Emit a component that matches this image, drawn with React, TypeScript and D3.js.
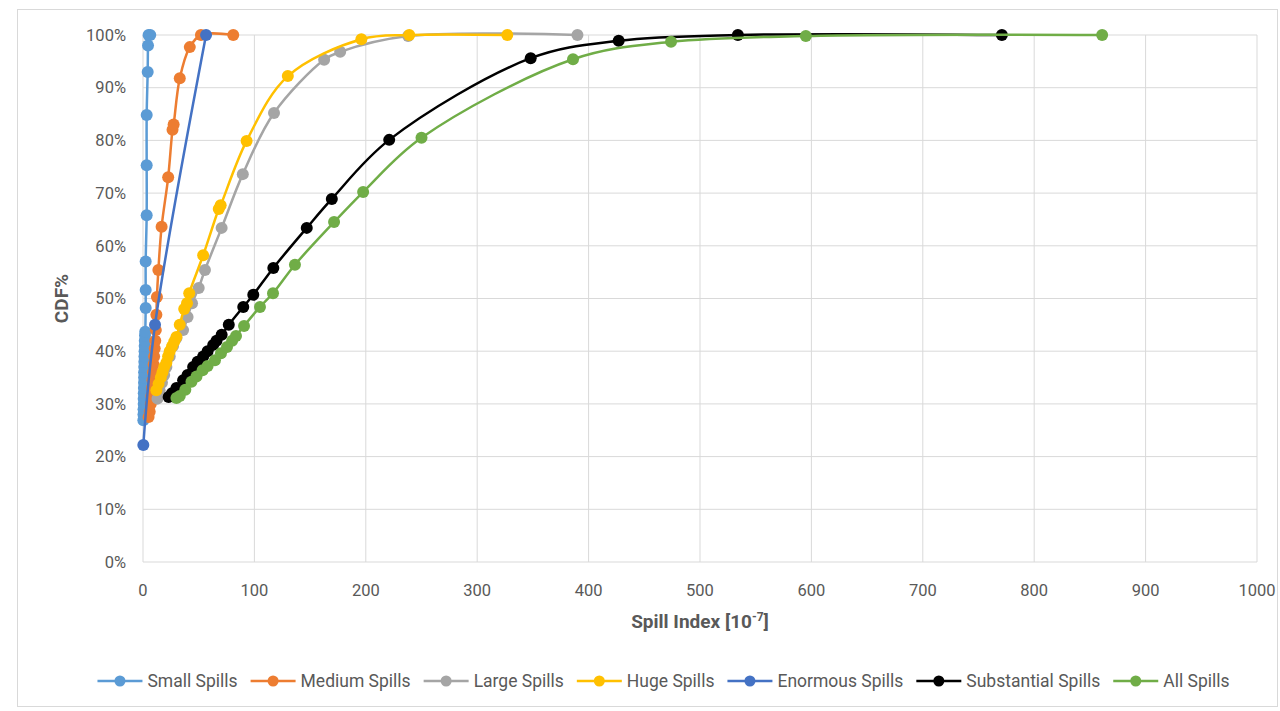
import React, { useEffect, useRef } from "react";
import * as d3 from "d3";

// [spill index, CDF %]
const smallSpills = [[0.3,26.9],[0.4,28],[0.5,29],[0.6,30],[0.6,31],[0.7,32],[0.8,33],[0.9,34],[1,35],[1,36],[1.1,37],[1.2,38],[1.3,39],[1.4,40],[1.5,41],[1.6,42],[1.8,43],[2,43.7],[2.4,48.2],[2.4,51.6],[2.4,57],[3.3,65.8],[3.3,75.3],[3.3,84.8],[4.2,93],[4.5,98],[5,100],[6.5,100]];
const mediumSpills = [[5,27.5],[6,28.5],[7,30],[7.5,31.5],[8,33],[8.5,34.5],[9,36],[9.5,37.5],[10,39],[10.5,40.5],[11,42],[11.5,44],[12,46.9],[12.5,50.3],[13.8,55.4],[16.7,63.6],[22.6,73],[26.5,82],[27.5,83],[33,91.8],[42,97.7],[52,100],[81,100]];
const largeSpills = [[13,31],[15,32.5],[17,34],[19,35.5],[21,37],[24,39],[27,41],[30,42.5],[36,44],[40,46.5],[44,49.1],[50,52],[55.6,55.4],[70.6,63.4],[89.6,73.6],[117.6,85.2],[162.6,95.3],[177,96.8],[238,99.8],[390,100]];
const hugeSpills = [[12,32.6],[14,33.8],[16,35],[17.5,36],[19,37],[21,37.8],[22.5,39],[24,40],[26,40.9],[28,41.8],[30,42.7],[33,45],[37,48],[39.5,49.1],[41.5,51],[54,58.2],[68,67],[69.7,67.7],[93,79.9],[130,92.2],[196,99.2],[239,100],[327,100]];
const enormousSpills = [[0.3,22.2],[10.8,45],[56.6,100]];
const substantialSpills = [[23,31.3],[26,32],[30,33],[36,34.5],[40,35.5],[45,37],[49,38],[54,39],[58,40],[63,41.2],[66,42],[70.6,43.1],[77,45],[90,48.4],[99,50.7],[117,55.8],[147,63.4],[169.5,68.9],[221,80.1],[348,95.6],[427,98.9],[534,100],[771,100]];
const allSpills = [[30,31.1],[33,31.5],[38,32.7],[43.5,34.2],[48,35.2],[53.5,36.4],[58,37.2],[64.6,38.3],[70,39.6],[75.4,40.8],[80,42],[83.5,42.9],[90.7,44.8],[105,48.4],[116.7,51],[136.4,56.4],[171.5,64.5],[197.6,70.2],[250,80.5],[386,95.4],[474,98.7],[595,99.8],[861,100]];

const seriesNames = ["Small Spills", "Medium Spills", "Large Spills", "Huge Spills", "Enormous Spills", "Substantial Spills", "All Spills"];
const seriesColors = ["#5B9BD5", "#ED7D31", "#A5A5A5", "#FFC000", "#4472C4", "#000000", "#70AD47"];
const seriesData = [smallSpills, mediumSpills, largeSpills, hugeSpills, enormousSpills, substantialSpills, allSpills];

const xTicks = [0, 100, 200, 300, 400, 500, 600, 700, 800, 900, 1000];
const yTicks = [0, 10, 20, 30, 40, 50, 60, 70, 80, 90, 100];

const W = 1280;
const H = 711;
const FONT = "Roboto, 'Open Sans', sans-serif";

export default function App() {
  const ref = useRef<SVGSVGElement>(null);

  useEffect(() => {
    const svg = d3.select(ref.current);
    svg.selectAll("*").remove();

    const left = 143, right = 1257, top = 35, bottom = 562;
    const x = d3.scaleLinear().domain([0, 1000]).range([left, right]);
    const y = d3.scaleLinear().domain([0, 100]).range([bottom, top]);

    // outer chart border
    svg.append("rect")
      .attr("x", 17.5).attr("y", 9.5)
      .attr("width", 1260).attr("height", 697)
      .attr("fill", "white").attr("stroke", "#D9D9D9");

    // grid
    const grid = svg.append("g");
    grid.selectAll("line.h").data(yTicks).enter().append("line")
      .attr("x1", left).attr("x2", right)
      .attr("y1", d => y(d)).attr("y2", d => y(d))
      .attr("stroke", "#D9D9D9").attr("stroke-width", 1);
    grid.selectAll("line.v").data(xTicks).enter().append("line")
      .attr("y1", top).attr("y2", bottom)
      .attr("x1", d => x(d)).attr("x2", d => x(d))
      .attr("stroke", "#D9D9D9").attr("stroke-width", 1);

    // tick labels
    svg.append("g").selectAll("text").data(yTicks).enter().append("text")
      .attr("x", left - 17).attr("y", d => y(d)).attr("dy", "0.35em")
      .attr("text-anchor", "end")
      .attr("font-family", FONT).attr("font-size", 16.5).attr("fill", "#595959")
      .text(d => d + "%");
    svg.append("g").selectAll("text").data(xTicks).enter().append("text")
      .attr("x", d => x(d)).attr("y", 590).attr("dy", "0.35em")
      .attr("text-anchor", "middle")
      .attr("font-family", FONT).attr("font-size", 16.5).attr("fill", "#595959")
      .text(d => d);

    // axis titles
    const xt = svg.append("text")
      .attr("x", (left + right) / 2).attr("y", 628)
      .attr("text-anchor", "middle")
      .attr("font-family", FONT).attr("font-size", 19).attr("font-weight", "bold").attr("fill", "#595959");
    xt.append("tspan").text("Spill Index [10");
    xt.append("tspan").attr("font-size", 12).attr("dy", -7).text("-7");
    xt.append("tspan").attr("dy", 7).text("]");

    svg.append("text")
      .attr("transform", `translate(68,${(top + bottom) / 2}) rotate(-90)`)
      .attr("text-anchor", "middle")
      .attr("font-family", FONT).attr("font-size", 19).attr("font-weight", "bold").attr("fill", "#595959")
      .text("CDF%");

    // series
    const line = d3.line<number[]>()
      .x(d => x(d[0]))
      .y(d => y(d[1]))
      .curve(d3.curveCatmullRom.alpha(0.5));

    seriesData.forEach((data, i) => {
      const g = svg.append("g");
      g.append("path")
        .attr("d", line(data))
        .attr("fill", "none")
        .attr("stroke", seriesColors[i])
        .attr("stroke-width", 2.5);
      g.selectAll("circle").data(data).enter().append("circle")
        .attr("cx", d => x(d[0]))
        .attr("cy", d => y(d[1]))
        .attr("r", 6)
        .attr("fill", seriesColors[i]);
    });

    // legend
    const legend = svg.append("g");
    let cx = 0;
    seriesNames.forEach((name, i) => {
      const item = legend.append("g").attr("transform", `translate(${cx},0)`);
      item.append("line").attr("x1", 0).attr("x2", 45).attr("y1", 0).attr("y2", 0)
        .attr("stroke", seriesColors[i]).attr("stroke-width", 2.5);
      item.append("circle").attr("cx", 22.5).attr("cy", 0).attr("r", 5.5).attr("fill", seriesColors[i]);
      const t = item.append("text").attr("x", 50).attr("y", 0).attr("dy", "0.35em")
        .attr("font-family", FONT).attr("font-size", 17.5).attr("fill", "#595959").text(name);
      const w = (t.node() as SVGTextElement).getComputedTextLength();
      cx += 50 + w + 13;
    });
    const total = cx - 13;
    legend.attr("transform", `translate(${(96 + 1231) / 2 - total / 2},681)`);
  }, []);

  return (
    <svg ref={ref} width={W} height={H}
      style={{ position: "absolute", left: 0, top: 0, background: "white" }} />
  );
}
